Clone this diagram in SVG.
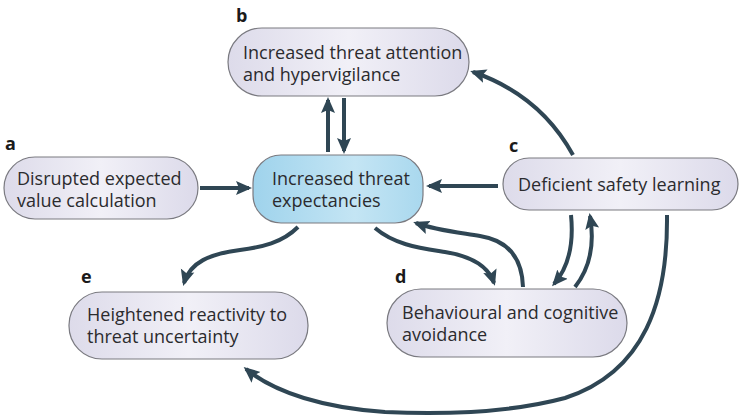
<svg xmlns="http://www.w3.org/2000/svg" width="741" height="417" viewBox="0 0 741 417">
<defs>
<linearGradient id="lav" x1="0" y1="0" x2="1" y2="0">
<stop offset="0" stop-color="#dddbea"/>
<stop offset="0.5" stop-color="#f1f0f7"/>
<stop offset="1" stop-color="#dcdaea"/>
</linearGradient>
<linearGradient id="blue" x1="0" y1="0" x2="1" y2="0">
<stop offset="0" stop-color="#9fd3ec"/>
<stop offset="0.6" stop-color="#c4e5f4"/>
<stop offset="1" stop-color="#a9d8ee"/>
</linearGradient>
<marker id="ah" markerUnits="userSpaceOnUse" markerWidth="16" markerHeight="16" viewBox="0 0 16 16" refX="13" refY="8" orient="auto">
<path d="M0,1 L16,8 L0,15 L3,8 z" fill="#2f4654"/>
</marker>
</defs>
<style>
.node{stroke:#7a7a80;stroke-width:1.2}
.lav{fill:url(#lav)}
.blu{fill:url(#blue)}
.t{font-family:"Open Sans","Noto Sans","Liberation Sans",sans-serif;font-size:18px;fill:#2b2b2e}
.lbl{font-family:"Open Sans","Liberation Sans",sans-serif;font-size:18px;font-weight:bold;fill:#1a1a1a}
.c{fill:none;stroke:#2f4654;stroke-width:4;marker-end:url(#ah)}
</style>

<g id="node-b">
<rect class="node lav" x="228" y="28" width="241" height="68" rx="34"/>
<text class="t" x="243" y="59">Increased threat attention</text>
<text class="t" x="243" y="81">and hypervigilance</text>
<text class="lbl" x="236" y="22">b</text>
</g>

<g id="node-a">
<rect class="node lav" x="4" y="157" width="194" height="62" rx="31"/>
<text class="t" x="17" y="185">Disrupted expected</text>
<text class="t" x="17" y="207">value calculation</text>
<text class="lbl" x="5" y="150">a</text>
</g>

<g id="node-center">
<rect class="node blu" x="253" y="155" width="170" height="68" rx="28"/>
<text class="t" x="272" y="185">Increased threat</text>
<text class="t" x="272" y="207">expectancies</text>
</g>

<g id="node-c">
<rect class="node lav" x="503" y="158" width="235" height="52" rx="26"/>
<text class="t" x="518" y="191">Deficient safety learning</text>
<text class="lbl" x="509" y="152">c</text>
</g>

<g id="node-e">
<rect class="node lav" x="69" y="292" width="239" height="67" rx="33"/>
<text class="t" x="87" y="321">Heightened reactivity to</text>
<text class="t" x="87" y="343">threat uncertainty</text>
<text class="lbl" x="81" y="283">e</text>
</g>

<g id="node-d">
<rect class="node lav" x="387" y="289" width="240" height="68" rx="34"/>
<text class="t" x="402" y="319">Behavioural and cognitive</text>
<text class="t" x="402" y="341">avoidance</text>
<text class="lbl" x="395" y="283">d</text>
</g>

<g id="connectors">
<path class="c" d="M328,152 L328,100"/>
<path class="c" d="M344,98 L344,151"/>
<path class="c" d="M200,188 L249,188"/>
<path class="c" d="M498,186 L429,186"/>
<path class="c" d="M573,155 Q540,95 473,72"/>
<path class="c" d="M298,227 C282,243 262,247 240,250 C210,254 190,262 184,283"/>
<path class="c" d="M375,228 C395,245 420,248 445,252 C470,256 488,265 494,283"/>
<path class="c" d="M523,287 C522,255 505,240 480,236 C455,232 435,230 416,223"/>
<path class="c" d="M571,215 C574,245 568,268 554,284"/>
<path class="c" d="M575,287 C590,268 595,245 590,216"/>
<path class="c" d="M667,215 C668,300 645,372 565,398 C505,414 430,414 385,412 C325,408 275,393 246,369"/>
</g>
</svg>
